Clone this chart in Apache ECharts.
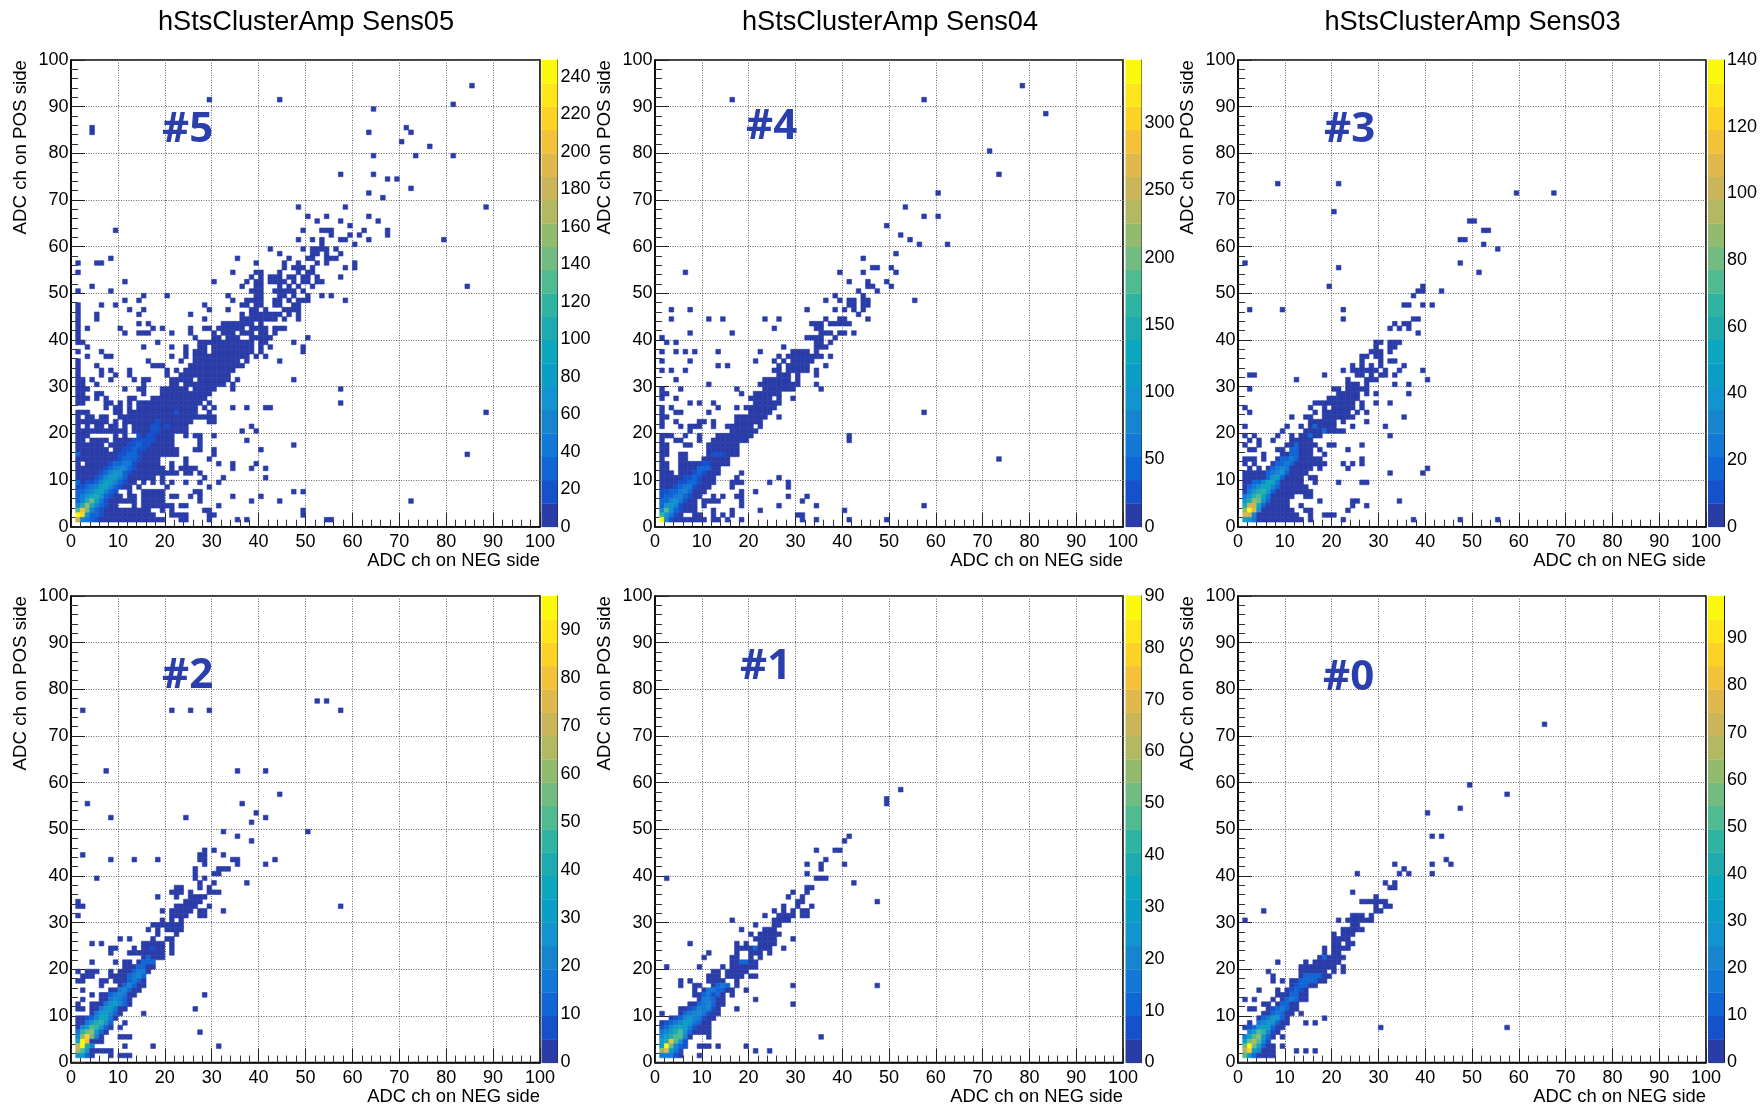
<!DOCTYPE html>
<html><head><meta charset="utf-8">
<style>html,body{margin:0;padding:0;background:#fff}#c{width:1764px;height:1108px}</style>
<script src="https://cdn.jsdelivr.net/npm/echarts@6/dist/echarts.min.js"></script>
</head><body><div id="c"></div>
<script>
// Occupied cells per row: [y, x | [xFrom,xTo], ...]
const sens05Cells=[[94,85],[91,29,44],[90,81],[89,64],[85,4,71],[84,4,63,72],[82,70],[81,76],[79,64,73,81],[75,57,64],[74,67,69],[72,72],[71,63],[70,66],[68,48,58,88],[66,50,54,63],[65,52,57,65],[64,59],[63,9,49,[53,55],62,67],[62,55,59,61,67],[61,48,51,53,57,58,63,79],[60,53,60],[59,42,49,[51,53],54,56],[58,44,51,52,54,57],[57,8,35,46,50,51,[54,56]],[56,1,5,6,39,45,48,52,54,60],[55,45,[47,49],51,58,60],[54,1,34,39,40,44,48,50,51],[53,38,40,[42,44],46,47,49,50,52,57],[52,11,30,37,39,40,[42,45],47,49,50,52,53],[51,4,36,39,40,44,46,48,51,84],[50,1,8,[38,40],[43,47],49],[49,15,20,33,39,40,44,45,47,50,53,55],[48,11,14,34,[37,40],43,44,46,[48,50],58],[47,1,6,9,28,36,37,39,40,43,44,47,48],[46,1,12,15,29,33,38,39,41,45,46,47,48],[45,1,5,14,25,36,38,39,[40,44],46,48],[44,1,5,28,[36,43],45,48],[43,1,14,16,[32,38],40],[42,1,3,10,17,19,25,28,29,[31,36],[38,41],[43,45]],[41,1,11,[14,16],21,25,30,[32,34],[36,38],[40,41],43],[40,1,26,30,31,[33,35],[38,42],50],[39,1,2,18,[27,38],40,41,47],[38,3,15,21,24,27,28,[30,38],40,42,49],[37,1,6,24,[26,28],[30,38],40,49],[36,3,7,8,21,24,[26,37],39,41],[35,1,16,23,[26,35],37,44],[34,1,5,[17,19],[25,36]],[33,1,6,8,12,20,22,[24,34]],[32,1,6,9,12,20,[23,33]],[31,1,2,4,8,13,15,16,[21,25],[27,33],35,47],[30,1,2,5,15,21,22,[24,32],34],[29,[1,3],11,14,15,[19,24],[26,30],34,57],[28,1,2,5,6,15,[19,29]],[27,[1,3],5,7,12,13,[17,28]],[26,1,2,7,8,10,12,[14,27],29,57],[25,7,9,10,12,[14,26],28,30,34,37,41,42],[24,[1,3],9,10,[12,26],29,88],[23,1,3,4,6,7,10,[11,26],27,28,29,30],[22,[1,7],9,11,[12,25],29,30],[21,1,3,[5,6],[8,9],11,[13,24],38],[20,[1,9],10,11,[13,24],36,39],[19,[1,3],9,11,[14,21],24,26,27,30],[18,1,2,[4,7],[9,21],27,37],[17,[1,6],[8,21],27,47],[16,[1,7],[9,22],26,27,30,40],[15,[1,22],30,84],[14,[1,18],24,29],[13,1,[3,18],21,24,31,34,39],[12,[1,19],21,[23,26],34,38,41],[11,[1,22],24,25,27],[10,[1,17],19,28,32,41],[9,[1,13],15,17,19,21,24,27,31],[8,[1,12],14,20,29],[7,[1,9],12,[15,19],26,27,47,49],[6,[1,10],12,13,[15,19],21,22,25,27,34,40],[5,[1,13],[15,19],27,38,44,72],[4,[1,9],13,[15,21],23,24,31],[3,[1,16],19,21,28,29,49],[2,[1,17],[21,24],29,30,49],[1,[1,19],23,24,29,35,37,54,55]];
const sens04Cells=[[94,78],[91,16,57],[88,83],[80,71],[75,73],[71,60],[68,53],[66,57,60],[64,49],[62,52],[61,54],[60,56,62],[58,51],[57,44],[55,46,47,50],[54,6,39,44,51],[52,41,45,49],[51,45,46,50],[50,43,47],[49,38,44],[48,36,39,41,42,44,45,55],[47,41,42,44,45],[46,3,7,32,38,40,42,44],[45,43],[44,3,11,14,23,26,36,39,40,45],[43,[33,35],[37,41]],[42,25,34,35],[41,7,16,[35,37],39,40,42],[40,1,[32,35],38],[39,2,4,34,35,37],[38,27,[34,36]],[37,1,4,6,8,13,22,[29,32],34],[36,26,28,[29,35],37],[35,1,7,21,25,27,[29,33]],[34,13,15,26,[28,32],36],[33,1,3,6,25,26,[28,32],34],[32,[26,28],30,34],[31,4,[23,28],30],[30,11,22,[23,30],34],[29,1,5,17,[23,29],35],[28,1,2,18,[21,26]],[27,1,4,20,[21,24],26,29],[26,7,9,12,[21,26]],[25,1,3,13,17,[19,25]],[24,1,4,5,11,[20,24],57],[23,1,2,[17,23],26],[22,1,4,9,10,12,[17,22]],[21,1,5,[7,9],12,[15,20],22],[20,7,[16,21]],[19,[1,3],6,9,[13,20],41],[18,1,4,5,9,[12,19],41],[17,1,2,6,7,[11,17]],[16,1,2,[11,17]],[15,1,2,5,6,[11,17]],[14,1,5,6,[10,15],73],[13,1,2,[5,15]],[12,1,2,[5,13]],[11,[1,3],[5,13],18],[10,[1,12],17,26],[9,[1,12],[16,18],24,28],[8,[1,11],16,28],[7,[1,10],18,21],[6,[1,9],12,14,17,18,28,32],[5,[1,8],[10,13],18,31],[4,[1,8],10,18,26,34,57],[3,[1,8],12,16,22,40],[2,[1,5],8,9,12,14,16,30,31],[1,[1,6],[7,10],12,13,15,18,31,34,41,49]];
const sens03Cells=[[73,8,21],[71,59,67],[67,20],[65,49,50],[63,52,53],[61,47,48],[60,52],[59,55],[56,1,47],[55,21],[54,51],[51,19,39],[50,38,39,43],[49,37],[47,35,36,39,41],[46,2,9,22],[44,22,37,38],[43,33,35,36],[42,32,34,36],[41,38],[39,29,30,[32,34]],[38,29,32,33],[37,[28,30],32],[36,26,27,29,30],[35,26,30,32,33],[34,24,26,28,30,35],[33,22,[24,29],31,34,39],[32,2,3,18,25,26,28,30,31,33],[31,12,23,[27,29],40],[30,[23,25],27,33,36],[29,2,20,21,[23,27]],[28,[21,25],27,29,36],[27,[19,25]],[26,[16,24],26,29,32],[25,1,15,18,[20,24],26],[24,2,16,[18,23],25,27],[23,11,14,15,[18,24],35],[22,[15,20],22,27],[21,1,10,13,[15,20],24,31],[20,9,[14,22]],[19,1,3,8,11,13,[14,17],32],[18,2,4,7,[11,15]],[17,1,4,[10,16],19,20,26],[16,2,3,8,9,[11,15],17,23],[15,5,[9,15],18],[14,[1,3],5,[8,16],17,26],[13,1,3,[7,18],22,24,26],[12,2,4,[6,15],17,23,40],[11,[1,14],32,39],[10,[1,13],15,16],[9,[1,13],16,21,26,27],[8,[1,14]],[7,[1,15]],[6,[1,11],14,15],[5,[1,10],17,24,25,34],[4,[1,10],13,24,27],[3,[1,11],14,15,23],[2,[1,12],15,[18,20]],[1,[1,13],15,22,37,47,55]];
const sens02Cells=[[77,52,54],[75,2,21,25,29,57],[62,7,35,41],[57,44],[55,3,36],[53,39],[52,8,24,41],[51,38],[49,32,50],[48,35],[47,38],[45,28,30],[44,2,27,28,32],[43,8,13,18,27,28,34,35,43],[42,28,35,41],[41,26,[31,33]],[40,26,30,31],[39,5,26,28],[38,27,30,37],[37,22,23,27,29],[36,[21,23],25,[29,31]],[35,18,22,[25,28]],[34,1,[24,27]],[33,1,2,[22,26],29,57],[32,19,[21,25],27,28,32],[31,1,[21,24],27,28],[30,19,21,23],[29,[17,23]],[28,16,18,[20,23]],[27,18,22],[26,10,12,17,20,21],[25,4,6,[15,19],21],[24,8,9,13,[15,19],21],[23,8,[12,19],21],[22,[15,19]],[21,4,9,11,12,[14,17]],[20,[11,17]],[19,1,[3,5],8,[10,16]],[18,[2,4],8,9,[10,15]],[17,1,2,6,7,[9,15]],[16,6,[10,15]],[15,2,[8,14]],[14,4,[6,13],28],[13,2,[6,12]],[12,1,[4,12]],[11,1,2,[4,11],26],[10,[4,10],15],[9,[1,9]],[8,[1,8],11],[7,[1,8],10],[6,[1,7],27],[5,[1,6],[10,12]],[4,[1,6]],[3,[1,4],11,17,31],[2,[1,8]],[1,[1,4],8,[10,12]]];
const sens01Cells=[[58,52],[56,49],[55,49],[48,41],[47,40],[45,34,38,39],[43,36],[42,32,35,40],[41,35],[40,32],[39,2,[34,36]],[38,42],[37,32,33],[36,29,32],[35,28,31],[34,30,31,47],[33,27,30,33],[32,25,27,29,31,32],[31,23,[26,29],31,32],[30,16,[25,28]],[29,21,25,26],[28,18,[23,25]],[27,20,[22,26]],[26,[21,25],29],[25,7,17,19,[22,25]],[24,[17,23],24,27],[23,11,17,[20,22],24],[22,10,16,17,20,22],[21,[16,21]],[20,2,9,14,[16,21]],[19,12,13,[15,19]],[18,11,12,13,[15,18],20,21],[17,5,7,11,[12,14],17],[16,5,8,9,[12,15],17,29,47],[15,8,[10,16],19],[14,[8,14],16],[13,[9,14],21],[12,[7,14],29],[11,[5,13],17],[10,1,[5,13]],[9,[3,12]],[8,[1,11]],[7,[1,11]],[6,[1,11]],[5,[1,7],11,35],[4,[1,6]],[3,[1,6],[9,11],13,19],[2,[1,5],21,24],[1,[1,5],9]];
const sens00Cells=[[72,65],[59,49],[57,57],[54,47],[53,40],[48,41,43],[43,44],[42,33,41,45],[41,35],[40,25,34,36,41],[38,31,33],[37,32,33],[36,24],[35,29],[34,[26,31]],[33,29,31,32],[32,5,29,30],[31,[24,26],28],[30,1,21,[23,28]],[29,24,25],[28,[22,26]],[27,20,[22,24]],[26,20,21,22,23],[25,20,21,23,24],[24,18,[20,23]],[23,18,20,21],[22,[17,22]],[21,8,14,[16,21]],[20,[13,20],22],[19,6,[13,18],20,22],[18,7,[13,19]],[17,7,9,[11,18]],[16,[11,16]],[15,4,8,[10,14]],[14,8,[9,14]],[13,1,3,7,[9,14]],[12,5,6,[8,12]],[11,2,3,[6,12]],[10,[5,11],13],[9,[4,10],18],[8,2,[4,10],14,16],[7,[1,9],30,57],[6,[2,8]],[5,[1,7],9],[4,[1,6]],[3,[1,7],9],[2,[1,7],12,14,16],[1,[1,7]]];

// Brighter cells per row: [y, first x, value, value, ...]
const sens05Core=[[1,1,185,60,40,30,20],[2,1,245,215,70,35,25,15],[3,1,125,205,140,60,30,20],[4,1,60,100,150,110,50,28,15],[5,1,35,60,110,145,90,45,20],[6,1,25,40,70,90,100,70,35,18],[7,1,25,30,40,60,85,95,60,30,16],[8,1,20,22,30,45,60,85,90,50,28,15],[9,1,30],[9,3,18,20,30,50,80,85,60,30,16],[10,5,16,30,50,70,80,55,25],[11,6,20,35,50,65,65,30,16],[12,7,20,30,40,50,50,28,14],[13,8,18,28,35,42,40,22],[14,10,22,32,35,30,16],[15,1,30],[15,10,14,24,32,30,20],[16,11,16,24,28,24,13],[17,12,14,20,26,24,16],[18,13,13,16,22,24,18],[19,14,13],[19,16,14,13],[20,17,14,15],[21,17,16,18],[21,20,14],[22,18,13],[24,22,13]];
const sens04Core=[[1,1,345,70,30],[2,1,170,95,60,25],[3,1,80,175,90,40,20],[4,1,40,95,100,70,30],[5,1,40,50,80,90,60,30],[6,1,25,35,50,65,75,45,25],[7,1,20,25,35,50,65,70,35],[8,4,25,40,55,60,30],[9,5,25,30,40,45,25],[10,6,20,25,35,30],[11,8,25,35,30],[12,9,40,45,35],[13,10,30,30],[15,12,25,25,25]];
const sens03Core=[[1,1,50,40,25],[2,1,105,100,30],[3,1,90,140,105,35],[4,1,60,100,100,50,20],[5,1,35,60,90,80,35,18],[6,1,25,35,65,75,55,25],[7,2,25,38,60,65,45,20],[8,2,16,25,40,55,55,30,16],[9,3,14,20,30,50,50,25],[10,6,20,40,45,20],[11,6,18,25,30,40,18],[12,7,16,25,30,22],[13,8,14,18,25,16],[14,9,14,20,25,18],[15,11,20,18],[16,11,16,18],[17,12,14],[19,15,16],[20,18,14],[21,16,14]];
const sens02Core=[[1,1,25,30,10],[2,1,65,50,25],[3,1,70,95,40,20],[4,1,35,95,82],[5,1,22,60,85,55,20],[6,1,18,45,55,60,30,14],[7,2,22,30,50,45,25,10],[8,3,18,25,40,45,25,10],[9,3,8,12,20,35,35,18],[10,5,15,25,30,20,10],[11,6,18,28,30,18],[12,7,15,25,30,20,10],[13,8,18,22,18,12],[14,8,10,15,22,18],[15,10,16,20,12],[16,11,12,20,14],[17,12,12,18,14],[18,12,12,16,20,12],[19,13,12,18,16],[20,14,10,14],[21,15,12,12,10],[22,16,10],[24,17,8]];
const sens01Core=[[1,1,15,15,14,8],[2,1,55,68,30,15,8],[3,1,30,90,50,22,12,6],[4,1,25,40,72,45,25,8],[5,1,18,30,40,45,45,22],[6,1,14,20,30,40,45,25,10],[7,1,5,12,20,28,35,30,15,8],[8,2,8,10,15,20,28,28,15,10],[9,4,8,12,18,25,22,15,8],[10,6,10,14,20,22,16,8],[11,7,8,12,18,14,18,6],[12,9,10,16,18,10],[13,10,14,16,10],[14,10,12,16,8,10],[15,11,16,14,10,12],[16,13,10,14,10],[21,18,10,12],[24,21,12]];
const sens00Core=[[1,1,50,25,12],[2,1,65,85,30,20],[3,1,55,99,55,35,12],[4,1,30,55,65,50,20,8],[5,1,18,35,50,60,30,14],[6,2,20,35,50,45,20,8],[7,2,8,14,25,30,30,14],[8,4,15,20,28,25,12],[9,5,12,16,25,25,10],[10,7,14,18,14],[11,7,8,12,16,10],[12,9,12,14],[13,10,12,16,10],[14,11,12,14],[15,11,8,12,8],[16,12,8,12,10],[17,13,10,12,14,14],[18,14,11,14,14,10],[22,18,11]];

// Colour scale: 20 contour colours, low to high
const birdPalette=['#2A3CA8','#1451CB','#1066D5','#1379D6','#1785CE','#1494CE','#0C9DC6','#0DA6BF','#1FAAB0','#2EB4A0','#50BB91','#72BB81','#93BB6E','#B3B962','#CBB55B','#E0B84B','#F4C13A','#FDD227','#FDE71C','#FBF90F'];

const panelNames=['hStsClusterAmp Sens05','hStsClusterAmp Sens04','hStsClusterAmp Sens03','','',''];
const panelTags=['#5','#4','#3','#2','#1','#0'];
const panelMax=[249,347,140,97,90,99];
const panelTicks=[
 [0,20,40,60,80,100,120,140,160,180,200,220,240],
 [0,50,100,150,200,250,300],
 [0,20,40,60,80,100,120,140],
 [0,10,20,30,40,50,60,70,80,90],
 [0,10,20,30,40,50,60,70,80,90],
 [0,10,20,30,40,50,60,70,80,90]];
const panelCells=[sens05Cells,sens04Cells,sens03Cells,sens02Cells,sens01Cells,sens00Cells];
const panelCore=[sens05Core,sens04Core,sens03Core,sens02Core,sens01Core,sens00Core];
const xAxisTitle='ADC ch on NEG side', yAxisTitle='ADC ch on POS side';

function buildCells(rows,core,floor){
  const m=new Map();
  rows.forEach(r=>{const y=r[0];r.slice(1).forEach(e=>{
    const a=Array.isArray(e)?e[0]:e,b=Array.isArray(e)?e[1]:e;
    for(let x=a;x<=b;x++)m.set(x+'_'+y,[x,y,floor]);});});
  core.forEach(r=>{const y=r[0],s=r[1];r.slice(2).forEach((v,i)=>m.set((s+i)+'_'+y,[s+i,y,v]));});
  return [...m.values()];
}
const FONT='"Liberation Sans",Arial,sans-serif';
const frameX=[[71,469],[655,468],[1238,468]];
const frameY=[[60,466.7],[596,466.5]];
const barX=[541.5,1125.5,1708];
const tagPos=[[157,125],[741,122],[1319,125],[157,671],[735,662],[1318,673]];
const titleCx=[301,885,1467.5];

const grid=[],xAxis=[],yAxis=[],series=[],title=[];
panelMax.forEach((max,i)=>{
  const col=i%3,row=Math.floor(i/3);
  const [l,w]=frameX[col],[t,h]=frameY[row];
  const mainIdx=grid.length;
  grid.push({left:l,top:t,width:w,height:h,show:true,borderColor:'#000',borderWidth:1.6,backgroundColor:'#fff'});
  const tick={show:true,inside:true,length:14,lineStyle:{color:'#222',width:1}};
  const minor={show:true,splitNumber:5,length:7,lineStyle:{color:'#333',width:1}};
  const split={show:true,lineStyle:{type:[1,1.5],color:'#666',width:1}};
  const line={show:true,onZero:false,lineStyle:{color:'#000',width:1.6}};
  xAxis.push({gridIndex:mainIdx,type:'value',min:0,max:100,interval:10,axisLine:line,axisTick:tick,minorTick:minor,splitLine:split,
    axisLabel:{color:'#000',fontFamily:FONT,fontSize:18,margin:6.5,hideOverlap:false,showMinLabel:true,showMaxLabel:true},
    name:xAxisTitle,nameLocation:'end',nameGap:0,nameMoveOverlap:false,
    nameTextStyle:{color:'#000',fontFamily:FONT,fontSize:18.4,align:'right',verticalAlign:'top',padding:[25,0,0,0]}});
  yAxis.push({gridIndex:mainIdx,type:'value',min:0,max:100,interval:10,axisLine:line,axisTick:tick,minorTick:minor,splitLine:split,
    axisLabel:{color:'#000',fontFamily:FONT,fontSize:18,margin:2.5,hideOverlap:false,showMinLabel:true,showMaxLabel:true},
    name:yAxisTitle,nameLocation:'end',nameGap:0,nameRotate:90,nameMoveOverlap:false,
    nameTextStyle:{color:'#000',fontFamily:FONT,fontSize:18.7,align:'right',verticalAlign:'bottom',padding:[0,0,41,0]}});
  series.push({type:'custom',xAxisIndex:mainIdx,yAxisIndex:mainIdx,animation:false,silent:true,clip:true,z:3,
    data:buildCells(panelCells[i],panelCore[i],max*0.02),encode:{x:0,y:1},
    renderItem:(p,api)=>{
      const x=api.value(0),y=api.value(1),v=api.value(2);
      const a=api.coord([x,y+1]),b=api.coord([x+1,y]);
      const c=birdPalette[Math.min(19,Math.floor(v/max*20))];
      return {type:'rect',shape:{x:a[0],y:a[1],width:b[0]-a[0],height:b[1]-a[1]},style:{fill:c,stroke:c,lineWidth:0.6}};
    }});
  // colour bar
  const barIdx=grid.length;
  grid.push({left:barX[col],top:t,width:16,height:h});
  xAxis.push({gridIndex:barIdx,type:'value',min:0,max:1,show:false});
  yAxis.push({gridIndex:barIdx,type:'value',position:'right',min:0,max:max,
    axisLine:{show:true,onZero:false,lineStyle:{color:'#222',width:1}},
    axisTick:{show:true,inside:true,length:15,customValues:panelTicks[i],lineStyle:{color:'rgba(20,20,20,0.85)',width:1.2}},
    axisLabel:{color:'#000',fontFamily:FONT,fontSize:18,margin:3,customValues:panelTicks[i],hideOverlap:false},
    splitLine:{show:false}});
  series.push({type:'custom',xAxisIndex:barIdx,yAxisIndex:barIdx,animation:false,silent:true,z:1,
    data:birdPalette.map((c,k)=>[k/20*max,(k+1)/20*max,k]),encode:{y:[0,1]},
    renderItem:(p,api)=>{
      const a=api.coord([0,api.value(1)]),b=api.coord([1,api.value(0)]);
      return {type:'rect',shape:{x:a[0],y:a[1],width:b[0]-a[0],height:b[1]-a[1]+0.3},style:{fill:birdPalette[api.value(2)]}};
    }});
  if(panelNames[i]) title.push({text:panelNames[i],left:titleCx[col],top:4,textAlign:'center',textStyle:{fontFamily:FONT,fontSize:27.2,fontWeight:'normal',color:'#000'}});
  title.push({text:panelTags[i],left:tagPos[i][0],top:tagPos[i][1],textVerticalAlign:'middle',
    textStyle:{fontFamily:'"Open Sans",sans-serif',fontSize:42,fontWeight:'bold',color:'#2A3FAB'}});
});
const chart=echarts.init(document.getElementById('c'),null,{renderer:'canvas'});
chart.setOption({backgroundColor:'#fff',animation:false,title,grid,xAxis,yAxis,series,tooltip:{show:false}});
</script></body></html>
